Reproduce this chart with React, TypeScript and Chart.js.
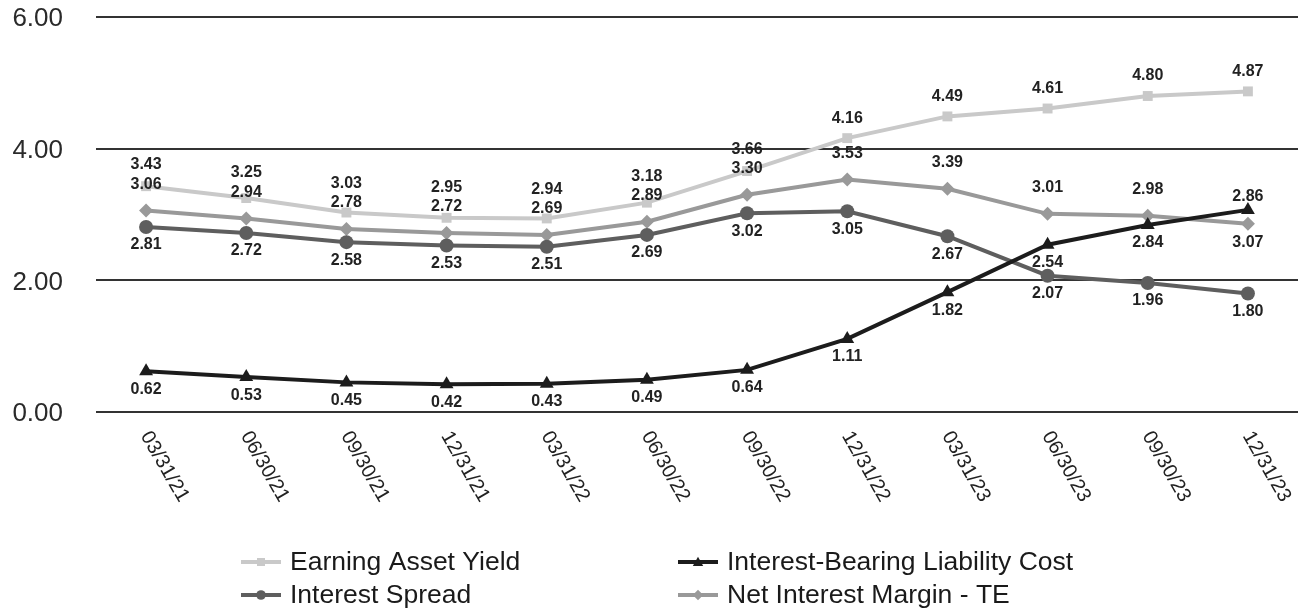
import React, { useEffect, useRef } from "react";
import { Chart, registerables } from "chart.js";

Chart.register(...registerables);

const categories = [
  "03/31/21", "06/30/21", "09/30/21", "12/31/21", "03/31/22", "06/30/22",
  "09/30/22", "12/31/22", "03/31/23", "06/30/23", "09/30/23", "12/31/23",
];

// plotted values (as positioned in the picture)
const earningAssetYield = [3.43, 3.25, 3.03, 2.95, 2.94, 3.18, 3.66, 4.16, 4.49, 4.61, 4.80, 4.87];
const liabilityCost = [0.62, 0.53, 0.45, 0.42, 0.43, 0.49, 0.64, 1.11, 1.82, 2.54, 2.84, 3.07];
const interestSpread = [2.81, 2.72, 2.58, 2.53, 2.51, 2.69, 3.02, 3.05, 2.67, 2.07, 1.96, 1.80];
const netInterestMargin = [3.06, 2.94, 2.78, 2.72, 2.69, 2.89, 3.30, 3.53, 3.39, 3.01, 2.98, 2.86];

// data-label texts as printed in the picture
const earningAssetYieldLabels = ["3.43", "3.25", "3.03", "2.95", "2.94", "3.18", "3.66", "4.16", "4.49", "4.61", "4.80", "4.87"];
const liabilityCostLabels = ["0.62", "0.53", "0.45", "0.42", "0.43", "0.49", "0.64", "1.11", "1.82", "2.54", "2.84", "2.86"];
const interestSpreadLabels = ["2.81", "2.72", "2.58", "2.53", "2.51", "2.69", "3.02", "3.05", "2.67", "2.07", "1.96", "1.80"];
const netInterestMarginLabels = ["3.06", "2.94", "2.78", "2.72", "2.69", "2.89", "3.30", "3.53", "3.39", "3.01", "2.98", "3.07"];

const yTicks = [0, 2, 4, 6];
const yTickLabels = ["0.00", "2.00", "4.00", "6.00"];

const seriesNames = [
  "Earning Asset Yield",
  "Interest-Bearing Liability Cost",
  "Interest Spread",
  "Net Interest Margin - TE",
];

const FONT = "'Liberation Sans', Arial, Helvetica, sans-serif";
const C_EAY = "#c9c9c9";
const C_IBL = "#1c1c1c";
const C_IS = "#5e5e5e";
const C_NIM = "#999999";
const TEXT = "#222222";

function drawMarker(ctx: CanvasRenderingContext2D, style: string, x: number, y: number, s: number, color: string) {
  ctx.save();
  ctx.fillStyle = color;
  ctx.beginPath();
  if (style === "rect") {
    ctx.rect(x - s, y - s, 2 * s, 2 * s);
  } else if (style === "rectRot") {
    ctx.moveTo(x, y - s * 1.3);
    ctx.lineTo(x + s * 1.3, y);
    ctx.lineTo(x, y + s * 1.3);
    ctx.lineTo(x - s * 1.3, y);
    ctx.closePath();
  } else if (style === "circle") {
    ctx.arc(x, y, s * 1.2, 0, Math.PI * 2);
  } else if (style === "triangle") {
    ctx.moveTo(x, y - s * 1.3);
    ctx.lineTo(x + s * 1.3, y + s);
    ctx.lineTo(x - s * 1.3, y + s);
    ctx.closePath();
  }
  ctx.fill();
  ctx.restore();
}

const overlayPlugin = {
  id: "overlay",
  afterDatasetsDraw(chart: any) {
    const ctx: CanvasRenderingContext2D = chart.ctx;
    const eay = chart.getDatasetMeta(0).data;
    const ibl = chart.getDatasetMeta(1).data;
    const is = chart.getDatasetMeta(2).data;
    const nim = chart.getDatasetMeta(3).data;
    ctx.save();
    ctx.font = `bold 16px ${FONT}`;
    ctx.fillStyle = TEXT;
    ctx.textAlign = "center";
    ctx.textBaseline = "middle";
    for (let i = 0; i < categories.length; i++) {
      const x = eay[i].x;
      // Interest spread: below
      ctx.fillText(interestSpreadLabels[i], x, is[i].y + 18);
      // liability cost
      const iblAbove = liabilityCost[i] > netInterestMargin[i];
      ctx.fillText(liabilityCostLabels[i], x, iblAbove ? ibl[i].y - 13 : ibl[i].y + 18);
      // NIM
      let nimY: number | null = null;
      if (iblAbove) {
        ctx.fillText(netInterestMarginLabels[i], x, nim[i].y + 18.5);
      } else {
        nimY = nim[i].y - 26;
        ctx.fillText(netInterestMarginLabels[i], x, nimY);
      }
      // EAY: above, kept clear of NIM label
      let ey = eay[i].y - 20;
      if (nimY !== null) ey = Math.min(ey, nimY - 19.5);
      ctx.fillText(earningAssetYieldLabels[i], x, ey);
    }
    ctx.restore();
  },
  afterDraw(chart: any) {
    const ctx: CanvasRenderingContext2D = chart.ctx;
    const yScale = chart.scales.y;
    const xScale = chart.scales.x;
    ctx.save();
    // y tick labels
    ctx.font = `26px ${FONT}`;
    ctx.fillStyle = "#2a2a2a";
    ctx.textAlign = "right";
    ctx.textBaseline = "middle";
    yTicks.forEach((v, i) => {
      ctx.fillText(yTickLabels[i], 63, yScale.getPixelForValue(v) + 2);
    });
    // x tick labels rotated clockwise
    ctx.font = `20px ${FONT}`;
    ctx.fillStyle = TEXT;
    ctx.textAlign = "left";
    ctx.textBaseline = "middle";
    const angle = (60 * Math.PI) / 180;
    categories.forEach((c, i) => {
      const x = xScale.getPixelForTick(i);
      ctx.save();
      ctx.translate(x - 1, 433);
      ctx.rotate(angle);
      ctx.fillText(c, 0, 0);
      ctx.restore();
    });
    // legend
    const items = [
      { name: seriesNames[0], color: C_EAY, style: "rect", x: 241, y: 562 },
      { name: seriesNames[1], color: C_IBL, style: "triangle", x: 678, y: 562 },
      { name: seriesNames[2], color: C_IS, style: "circle", x: 241, y: 595 },
      { name: seriesNames[3], color: C_NIM, style: "rectRot", x: 678, y: 595 },
    ];
    ctx.font = `26.5px ${FONT}`;
    ctx.textAlign = "left";
    ctx.textBaseline = "middle";
    items.forEach((it) => {
      ctx.strokeStyle = it.color;
      ctx.lineWidth = 4;
      ctx.beginPath();
      ctx.moveTo(it.x, it.y);
      ctx.lineTo(it.x + 40, it.y);
      ctx.stroke();
      drawMarker(ctx, it.style, it.x + 20, it.y, 4, it.color);
      ctx.fillStyle = "#1a1a1a";
      ctx.fillText(it.name, it.x + 49, it.y + 1);
    });
    ctx.restore();
  },
};

export default function App() {
  const ref = useRef<HTMLCanvasElement | null>(null);
  useEffect(() => {
    document.body.style.margin = "0";
    document.body.style.background = "#ffffff";
    if (!ref.current) return;
    const chart = new Chart(ref.current, {
      type: "line",
      data: {
        labels: categories,
        datasets: [
          {
            label: seriesNames[0],
            data: earningAssetYield,
            borderColor: C_EAY,
            backgroundColor: C_EAY,
            borderWidth: 4,
            pointStyle: "rect",
            pointRadius: 7,
            pointBorderWidth: 0,
          },
          {
            label: seriesNames[1],
            data: liabilityCost,
            borderColor: C_IBL,
            backgroundColor: C_IBL,
            borderWidth: 4,
            pointStyle: "triangle",
            pointRadius: 8,
            pointBorderWidth: 0,
          },
          {
            label: seriesNames[2],
            data: interestSpread,
            borderColor: C_IS,
            backgroundColor: C_IS,
            borderWidth: 4,
            pointStyle: "circle",
            pointRadius: 7,
            pointBorderWidth: 0,
          },
          {
            label: seriesNames[3],
            data: netInterestMargin,
            borderColor: C_NIM,
            backgroundColor: C_NIM,
            borderWidth: 4,
            pointStyle: "rectRot",
            pointRadius: 7,
            pointBorderWidth: 0,
          },
        ],
      },
      options: {
        animation: false,
        responsive: true,
        maintainAspectRatio: false,
        layout: { autoPadding: false, padding: { left: 96, right: 3, top: 17, bottom: 197 } },
        plugins: {
          legend: { display: false },
          tooltip: { enabled: false },
        },
        scales: {
          x: {
            type: "category",
            offset: true,
            grid: { display: false, drawTicks: false },
            border: { display: false },
            ticks: { display: false },
          },
          y: {
            min: 0,
            max: 6,
            ticks: { display: false, stepSize: 2 },
            grid: { color: "#333333", lineWidth: 2, drawTicks: false },
            border: { display: false },
          },
        },
      },
      plugins: [overlayPlugin],
    } as any);
    return () => chart.destroy();
  }, []);
  return (
    <div style={{ position: "relative", width: "1301px", height: "609px" }}>
      <canvas ref={ref} />
    </div>
  );
}
